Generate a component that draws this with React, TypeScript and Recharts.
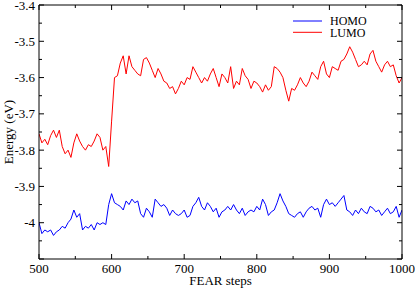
import React from "react";
import { LineChart, Line, XAxis, YAxis, Legend } from "recharts";

const steps: number[] = Array.from({ length: 126 }, (_, i) => 500 + 4 * i);

const lumo: number[] = [
  -3.755, -3.78, -3.77, -3.785, -3.76, -3.745, -3.765, -3.745, -3.79, -3.81,
  -3.8, -3.82, -3.78, -3.755, -3.775, -3.79, -3.8, -3.785, -3.79, -3.775,
  -3.755, -3.765, -3.8, -3.79, -3.845, -3.72, -3.6, -3.595, -3.56, -3.54,
  -3.59, -3.54, -3.57, -3.58, -3.59, -3.595, -3.55, -3.545, -3.56, -3.58,
  -3.6, -3.575, -3.59, -3.61, -3.615, -3.63, -3.625, -3.645, -3.63, -3.61,
  -3.62, -3.6, -3.605, -3.57, -3.585, -3.6, -3.615, -3.6, -3.61, -3.59,
  -3.575, -3.6, -3.625, -3.59, -3.6, -3.615, -3.57, -3.63, -3.61, -3.62,
  -3.575, -3.595, -3.605, -3.63, -3.61, -3.615, -3.625, -3.64, -3.62, -3.635,
  -3.625, -3.57, -3.575, -3.585, -3.6, -3.635, -3.665, -3.63, -3.635, -3.62,
  -3.6, -3.615, -3.625, -3.61, -3.585, -3.595, -3.605, -3.57, -3.555, -3.59,
  -3.6, -3.57, -3.575, -3.58, -3.555, -3.55, -3.535, -3.515, -3.53, -3.55,
  -3.57, -3.565, -3.555, -3.565, -3.535, -3.525, -3.555, -3.57, -3.585, -3.565,
  -3.555, -3.57, -3.565, -3.595, -3.615, -3.6,
];

const homo: number[] = [
  -4.0, -4.03, -4.02, -4.025, -4.02, -4.035, -4.025, -4.02, -4.01, -4.015,
  -4.0, -3.99, -3.965, -3.985, -3.975, -4.02, -4.01, -4.015, -4.005, -4.02,
  -4.0, -4.005, -4.0, -4.005, -3.95, -3.92, -3.945, -3.95, -3.955, -3.965,
  -3.94, -3.95, -3.935, -3.945, -3.94, -3.975, -3.985, -3.96, -3.97, -3.985,
  -3.935, -3.945, -3.955, -3.95, -3.96, -3.98, -3.965, -3.975, -3.98, -3.975,
  -3.965, -3.985, -3.98, -3.955, -3.945, -3.93, -3.955, -3.965, -3.945, -3.955,
  -3.97, -3.96, -3.985, -3.97, -3.965, -3.955, -3.965, -3.95, -3.965, -3.975,
  -3.96, -3.98, -3.97, -3.965, -3.97, -3.955, -3.965, -3.935, -3.95, -3.98,
  -3.97, -3.965, -3.945, -3.92, -3.94, -3.955, -3.975, -3.98, -3.985, -3.975,
  -3.97, -3.985, -3.97, -3.96, -3.955, -3.965, -3.96, -3.985, -3.95, -3.935,
  -3.95, -3.945, -3.955, -3.945, -3.935, -3.925, -3.965, -3.97, -3.98, -3.965,
  -3.975, -3.96, -3.97, -3.975, -3.955, -3.96, -3.97, -3.965, -3.98, -3.97,
  -3.96, -3.975, -3.97, -3.955, -3.985, -3.965,
];

const xTicks: number[] = [500, 550, 600, 650, 700, 750, 800, 850, 900, 950, 1000];
const yTicks: number[] = [
  -4.1, -4.05, -4, -3.95, -3.9, -3.85, -3.8, -3.75, -3.7, -3.65, -3.6, -3.55, -3.5, -3.45, -3.4,
];
const yLabelled: number[] = [-4, -3.9, -3.8, -3.7, -3.6, -3.5, -3.4];

const seriesNames = ["HOMO", "LUMO"];
const seriesColors = ["#0000ff", "#ff0000"];

const data = steps.map((s, i) => ({ step: s, HOMO: homo[i], LUMO: lumo[i] }));

const FONT = "'Liberation Serif', 'Times New Roman', serif";
const MAJ = 5;
const MIN = 3;

const isMajorX = (v: number) => Math.round(v) % 100 === 0;
const isMajorY = (v: number) => Math.round(v * 100) % 10 === 0;

const BottomTick = (props: any) => {
  const { x, y, payload } = props;
  const v = payload.value;
  const major = isMajorX(v);
  return (
    <g>
      <line x1={x} x2={x} y1={y} y2={y - (major ? MAJ : MIN)} stroke="#000" strokeWidth={1} />
      {major && (
        <text x={x} y={y + 13.5} textAnchor="middle" style={{ fontFamily: FONT, fontSize: 13 }} fill="#000">
          {String(v)}
        </text>
      )}
    </g>
  );
};

const TopTick = (props: any) => {
  const { x, y, payload } = props;
  const major = isMajorX(payload.value);
  return <line x1={x} x2={x} y1={y} y2={y + (major ? MAJ : MIN)} stroke="#000" strokeWidth={1} />;
};

const LeftTick = (props: any) => {
  const { x, y, payload } = props;
  const v = payload.value;
  const major = isMajorY(v);
  const lab = yLabelled.some((t) => Math.abs(t - v) < 1e-6);
  return (
    <g>
      <line x1={x} x2={x + (major ? MAJ : MIN)} y1={y} y2={y} stroke="#000" strokeWidth={1} />
      {lab && (
        <text x={x - 4} y={y + 4.5} textAnchor="end" style={{ fontFamily: FONT, fontSize: 13 }} fill="#000">
          {String(Math.round(v * 10) / 10)}
        </text>
      )}
    </g>
  );
};

const RightTick = (props: any) => {
  const { x, y, payload } = props;
  const major = isMajorY(payload.value);
  return <line x1={x} x2={x - (major ? MAJ : MIN)} y1={y} y2={y} stroke="#000" strokeWidth={1} />;
};

const LegendBox = () => (
  <svg width={100} height={36} style={{ display: "block" }}>
    {seriesNames.map((n, i) => (
      <g key={n}>
        <line x1={3} x2={32} y1={9 + i * 11.3} y2={9 + i * 11.3} stroke={seriesColors[i]} strokeWidth={1} />
        <text x={40} y={13 + i * 12.3} style={{ fontFamily: FONT, fontSize: 12 }} fill="#000">
          {n}
        </text>
      </g>
    ))}
  </svg>
);

export default function App() {
  return (
    <div style={{ position: "absolute", left: 0, top: 0, background: "#fff", fontFamily: FONT }}>
      <LineChart width={415} height={288} data={data} margin={{ top: 0, right: 0, bottom: 0, left: 0 }}>
        <XAxis
          xAxisId="bottom"
          dataKey="step"
          type="number"
          domain={[500, 1000]}
          ticks={xTicks}
          interval={0}
          orientation="bottom"
          height={29}
          tickSize={0}
          tickMargin={0}
          tickLine={false}
          axisLine={{ stroke: "#000", strokeWidth: 1 }}
          tick={<BottomTick />}
          allowDataOverflow
          label={(p: any) => {
            const vb = p.viewBox || {};
            return (
              <text
                x={vb.x + vb.width / 2}
                y={vb.y + 26}
                textAnchor="middle"
                style={{ fontFamily: FONT, fontSize: 13 }}
                fill="#000"
              >
                FEAR steps
              </text>
            );
          }}
        />
        <XAxis
          xAxisId="top"
          dataKey="step"
          type="number"
          domain={[500, 1000]}
          ticks={xTicks}
          interval={0}
          orientation="top"
          height={5}
          tickSize={0}
          tickMargin={0}
          tickLine={false}
          axisLine={{ stroke: "#000", strokeWidth: 1 }}
          tick={<TopTick />}
          allowDataOverflow
        />
        <YAxis
          yAxisId="left"
          type="number"
          domain={[-4.1, -3.4]}
          ticks={yTicks}
          interval={0}
          orientation="left"
          width={39}
          tickSize={0}
          tickMargin={0}
          tickLine={false}
          axisLine={{ stroke: "#000", strokeWidth: 1 }}
          tick={<LeftTick />}
          allowDataOverflow
          label={(p: any) => {
            const vb = p.viewBox || {};
            const cx = 8;
            const cy = vb.y + vb.height / 2;
            return (
              <text
                x={cx}
                y={cy}
                transform={`rotate(-90 ${cx} ${cy})`}
                textAnchor="middle"
                dominantBaseline="central"
                style={{ fontFamily: FONT, fontSize: 13 }}
                fill="#000"
              >
                Energy (eV)
              </text>
            );
          }}
        />
        <YAxis
          yAxisId="right"
          type="number"
          domain={[-4.1, -3.4]}
          ticks={yTicks}
          interval={0}
          orientation="right"
          width={13}
          tickSize={0}
          tickMargin={0}
          tickLine={false}
          axisLine={{ stroke: "#000", strokeWidth: 1 }}
          tick={<RightTick />}
          allowDataOverflow
        />
        <Legend
          layout="vertical"
          align="center"
          verticalAlign="middle"
          content={<LegendBox />}
          wrapperStyle={{ position: "absolute", left: 290, top: 12, width: 100, height: 36 }}
        />
        <Line
          xAxisId="bottom"
          yAxisId="left"
          type="linear"
          dataKey="HOMO"
          stroke={seriesColors[0]}
          strokeWidth={1}
          dot={false}
          isAnimationActive={false}
        />
        <Line
          xAxisId="bottom"
          yAxisId="left"
          type="linear"
          dataKey="LUMO"
          stroke={seriesColors[1]}
          strokeWidth={1}
          dot={false}
          isAnimationActive={false}
        />
      </LineChart>
    </div>
  );
}
